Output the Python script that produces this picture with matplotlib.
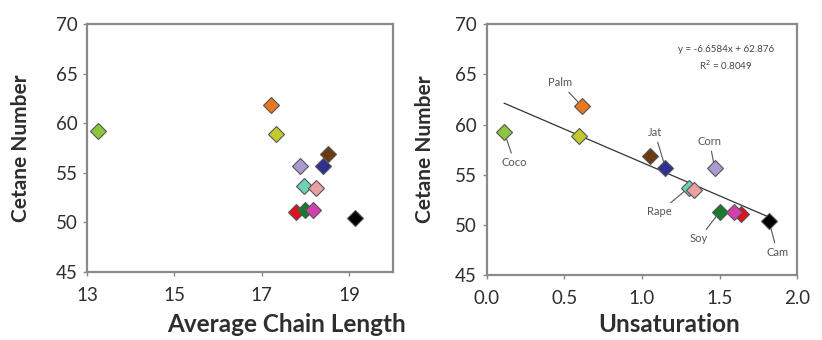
import numpy as np
import matplotlib.pyplot as plt

plt.rcParams['font.family'] = ['Lato', 'DejaVu Sans']

# cetane number vs. chain length / unsaturation for each oil feedstock
colors = ['#8cc63f', '#e87722', '#c2c92e', '#6b3a10', '#2e3192', '#a99bd0',
          '#6fd0b8', '#e8a0a0', '#e0101e', '#1a7a30', '#d040b0', '#000000']
cetane = [59.25, 61.8, 58.9, 56.9, 55.7, 55.65, 53.7, 53.5, 51.05, 51.3, 51.3, 50.4]
chain_len = [13.26, 17.21, 17.33, 18.51, 18.39, 17.87, 17.97, 18.25, 17.78, 17.98, 18.18, 19.13]
unsat = [0.113, 0.614, 0.592, 1.054, 1.151, 1.467, 1.301, 1.338, 1.639, 1.501, 1.591, 1.817]

# linear trend on unsaturation
slope, intercept, r2 = -6.6584, 62.876, 0.8049

# feedstock labels: (name, point index, text x, text y)
labels = [('Palm', 1, 0.474, 64.15), ('Coco', 0, 0.18, 56.2), ('Jat', 4, 1.082, 59.2),
          ('Corn', 5, 1.436, 58.3), ('Rape', 6, 1.114, 51.3), ('Soy', 9, 1.366, 48.6),
          ('Cam', 11, 1.871, 47.26)]

TXT = '#2e2e2e'
SPINE = '#8a8a8a'

fig = plt.figure(figsize=(8.22, 3.4), dpi=100)
ax1 = fig.add_axes([0.106, 0.2, 0.372, 0.729])
ax2 = fig.add_axes([0.592, 0.191, 0.378, 0.738])


def style(ax, ylab_x):
    for s in ax.spines.values():
        s.set_color(SPINE)
        s.set_linewidth(1.6)
    ax.tick_params(direction='out', length=3, width=1, color=SPINE,
                   labelsize=13.5, labelcolor=TXT)
    ax.tick_params(axis='x', pad=8)
    ax.tick_params(axis='y', pad=4)
    ax.set_ylim(45, 70)
    ax.set_yticks(np.arange(45, 71, 5))
    ax.set_ylabel('Cetane Number', fontsize=15, fontweight='bold', color=TXT)
    ax.yaxis.label.set_va('center')
    ax.yaxis.set_label_coords(ylab_x, 0.5)


for x, y, c in zip(chain_len, cetane, colors):
    ax1.plot(x, y, 'D', ms=8, mfc=c, mec='#555555', mew=0.8)
ax1.set_xlim(13, 20)
ax1.set_xticks([13, 15, 17, 19])
style(ax1, -0.216)
ax1.set_xlabel('Average Chain Length', fontsize=17.5, fontweight='bold', color=TXT)
ax1.xaxis.label.set_va('baseline')
ax1.xaxis.set_label_coords(0.652, -0.242)

xs = np.array([min(unsat), max(unsat)])
ax2.plot(xs, slope * xs + intercept, color='#333333', lw=0.9, zorder=2)
for x, y, c in zip(unsat, cetane, colors):
    ax2.plot(x, y, 'D', ms=8, mfc=c, mec='#555555', mew=0.8, zorder=3)
for name, i, tx, ty in labels:
    ax2.annotate(name, xy=(unsat[i], cetane[i]), xytext=(tx, ty), fontsize=8,
                 color='#555555', ha='center', va='center',
                 arrowprops=dict(arrowstyle='-', color='#555555', lw=0.8,
                                 shrinkA=1, shrinkB=4), zorder=1)
ax2.text(1.54, 67.5, 'y = %.4fx + %.3f' % (slope, intercept), fontsize=7,
         color='#444444', ha='center', va='center')
ax2.text(1.54, 65.9, 'R$^2$ = %.4f' % r2, fontsize=7, color='#444444',
         ha='center', va='center')
ax2.set_xlim(0, 2)
ax2.set_xticks(np.arange(0, 2.01, 0.5))
ax2.set_xticklabels(['%.1f' % v for v in np.arange(0, 2.01, 0.5)])
style(ax2, -0.198)
ax2.set_xlabel('Unsaturation', fontsize=17.5, fontweight='bold', color=TXT)
ax2.xaxis.label.set_va('baseline')
ax2.xaxis.set_label_coords(0.586, -0.227)

fig.savefig('out.png', dpi=100)
